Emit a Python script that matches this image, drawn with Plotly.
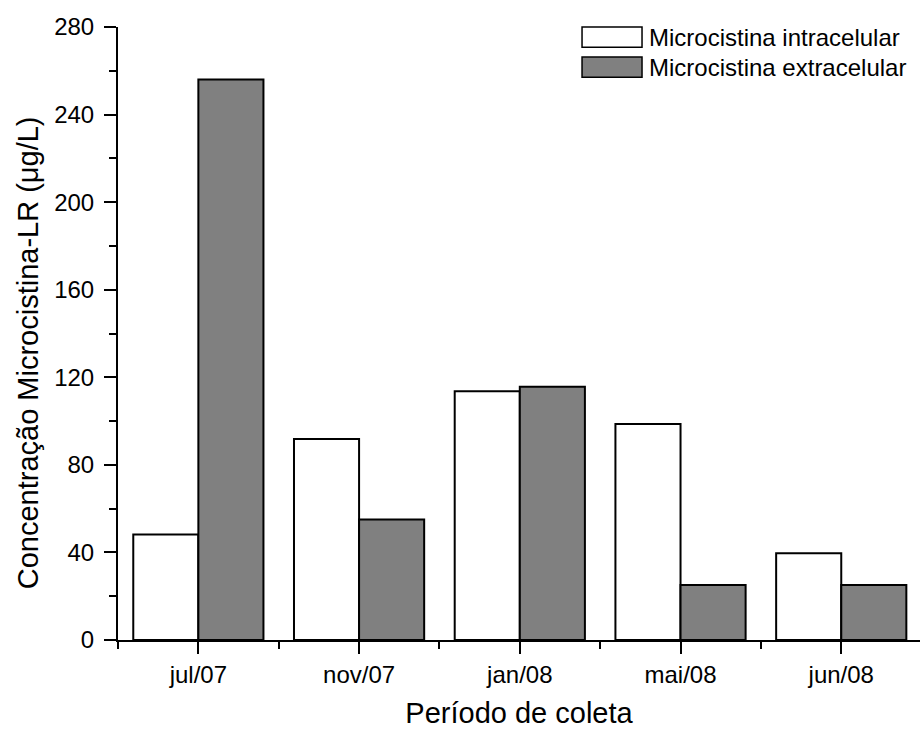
import plotly.graph_objects as go

# Sampling periods and microcystin-LR concentrations (µg/L)
periods = ["jul/07", "nov/07", "jan/08", "mai/08", "jun/08"]
intracelular = [48.2, 91.8, 113.6, 98.7, 39.6]
extracelular = [256.0, 55.0, 115.7, 25.1, 25.1]

series_names = ["Microcistina intracelular", "Microcistina extracelular"]
fills = ["#ffffff", "#808080"]

FONT = "Liberation Sans, Arial, sans-serif"
x_idx = list(range(len(periods)))

fig = go.Figure()
for name, vals, fill in zip(series_names, [intracelular, extracelular], fills):
    fig.add_trace(go.Bar(
        x=x_idx, y=vals, name=name,
        marker=dict(color=fill, line=dict(color="#000000", width=2)),
        showlegend=False,
    ))

# Hand-drawn legend with wide rectangular swatches (top right)
legend_rows = [(1.0, 0.967), (0.951, 0.918)]
for (y1, y0), name, fill in zip(legend_rows, series_names, fills):
    fig.add_shape(type="rect", xref="paper", yref="paper",
                  x0=0.5786, x1=0.6534, y0=y0, y1=y1,
                  fillcolor=fill, line=dict(color="#000000", width=1.5))
    fig.add_annotation(xref="paper", yref="paper", x=0.6596, y=(y0 + y1) / 2,
                       text=name, showarrow=False, xanchor="left", yanchor="middle",
                       font=dict(family=FONT, size=24, color="#000000"))

# Vertical axis title, placed slightly below the axis midpoint
fig.add_annotation(xref="paper", yref="paper", x=-0.112, y=0.468,
                   text="Concentração Microcistina-LR (μg/L)", textangle=-90,
                   showarrow=False, xanchor="center", yanchor="middle",
                   font=dict(family=FONT, size=29, color="#000000"))

fig.update_layout(
    width=920, height=731,
    margin=dict(l=118, r=0, t=27, b=91),
    paper_bgcolor="#ffffff", plot_bgcolor="#ffffff",
    barmode="group", bargap=0.19, bargroupgap=0,
    font=dict(family=FONT, color="#000000"),
    xaxis=dict(
        range=[-0.5, 4.49],
        tickmode="array", tickvals=x_idx, ticktext=periods,
        ticks="outside", ticklen=12, tickwidth=2, tickcolor="#000000",
        minor=dict(tickmode="linear", tick0=-0.5, dtick=1, ticks="outside",
                   ticklen=7, tickwidth=2, tickcolor="#000000"),
        showline=True, linecolor="#000000", linewidth=2,
        showgrid=False, zeroline=False,
        tickfont=dict(family=FONT, size=24, color="#000000"),
        title=dict(text="Período de coleta", standoff=16,
                   font=dict(family=FONT, size=29, color="#000000")),
    ),
    yaxis=dict(
        range=[0, 280],
        tickmode="linear", tick0=0, dtick=40,
        ticks="outside", ticklen=12, tickwidth=2, tickcolor="#000000",
        minor=dict(tickmode="linear", tick0=0, dtick=20, ticks="outside",
                   ticklen=7, tickwidth=2, tickcolor="#000000"),
        showline=True, linecolor="#000000", linewidth=2,
        showgrid=False, zeroline=False,
        ticklabelstandoff=5,
        tickfont=dict(family=FONT, size=24, color="#000000"),
    ),
)

fig.write_html("out.html")
